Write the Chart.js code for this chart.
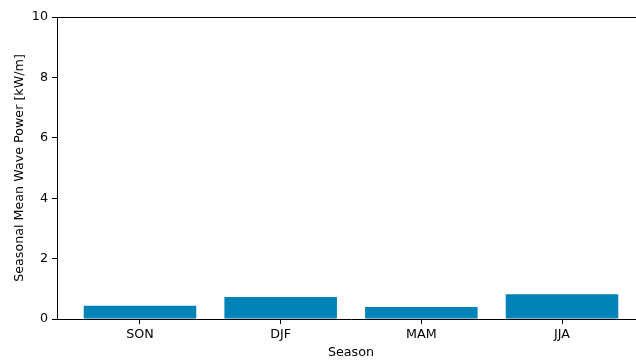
<!DOCTYPE html>
<html>
<head>
<meta charset="utf-8">
<script src="https://cdn.jsdelivr.net/npm/chart.js@4/dist/chart.umd.min.js"></script>
<style>
  html, body { margin: 0; padding: 0; background: #fff; overflow: hidden; }
  #wrap { width: 660px; height: 360px; }
</style>
</head>
<body>
<div id="wrap"><canvas id="c" width="660" height="360"></canvas></div>
<script>
// Seasonal mean wave power per season
const seasons = ['SON', 'DJF', 'MAM', 'JJA'];
const meanPower = [0.44, 0.73, 0.40, 0.82];
const yTicks = [0, 2, 4, 6, 8, 10];

const FONT = 'DejaVu Sans';
const FS = 12.7;

// Top and right spines of the axes box
const frame = {
  id: 'frame',
  afterDraw(chart) {
    const { ctx, chartArea: a } = chart;
    ctx.save();
    ctx.strokeStyle = '#000';
    ctx.lineWidth = 1;
    ctx.beginPath();
    ctx.moveTo(a.left, a.top + 0.5);
    ctx.lineTo(a.right, a.top + 0.5);
    ctx.moveTo(a.right - 0.5, a.top);
    ctx.lineTo(a.right - 0.5, a.bottom);
    ctx.stroke();
    ctx.restore();
  }
};

new Chart(document.getElementById('c'), {
  type: 'bar',
  data: {
    datasets: [{
      data: seasons.map((s, i) => ({ x: i, y: meanPower[i] })),
      backgroundColor: '#0083b6',
      borderWidth: 0,
      barPercentage: 0.8,
      categoryPercentage: 1.0
    }]
  },
  options: {
    responsive: false,
    animation: false,
    layout: { padding: { left: 0, right: 15, top: 17, bottom: 0 } },
    plugins: { legend: { display: false }, tooltip: { enabled: false } },
    scales: {
      x: {
        type: 'linear',
        offset: false,
        min: -0.59,
        max: 3.59,
        afterFit(s) { s.height = 41; },
        afterBuildTicks(s) { s.ticks = seasons.map((_, i) => ({ value: i })); },
        ticks: {
          color: '#000',
          font: { family: FONT, size: FS },
          padding: 3,
          callback: (v) => seasons[v]
        },
        grid: { drawOnChartArea: false, offset: false, color: '#000', tickLength: 5, tickWidth: 1 },
        border: { color: '#000', width: 1 },
        title: {
          display: true, text: 'Season', color: '#000',
          font: { family: FONT, size: FS }, padding: { top: 0, bottom: 0 }
        }
      },
      y: {
        min: 0,
        max: 10,
        afterFit(s) { s.width = 57; },
        afterBuildTicks(s) { s.ticks = yTicks.map(v => ({ value: v })); },
        ticks: { color: '#000', font: { family: FONT, size: FS }, padding: 4 },
        grid: { drawOnChartArea: false, color: '#000', tickLength: 5, tickWidth: 1 },
        border: { color: '#000', width: 1 },
        title: {
          display: true, text: 'Seasonal Mean Wave Power [kW/m]', color: '#000',
          font: { family: FONT, size: FS }, padding: { top: 12, bottom: 4 }
        }
      }
    }
  },
  plugins: [frame]
});
</script>
</body>
</html>
